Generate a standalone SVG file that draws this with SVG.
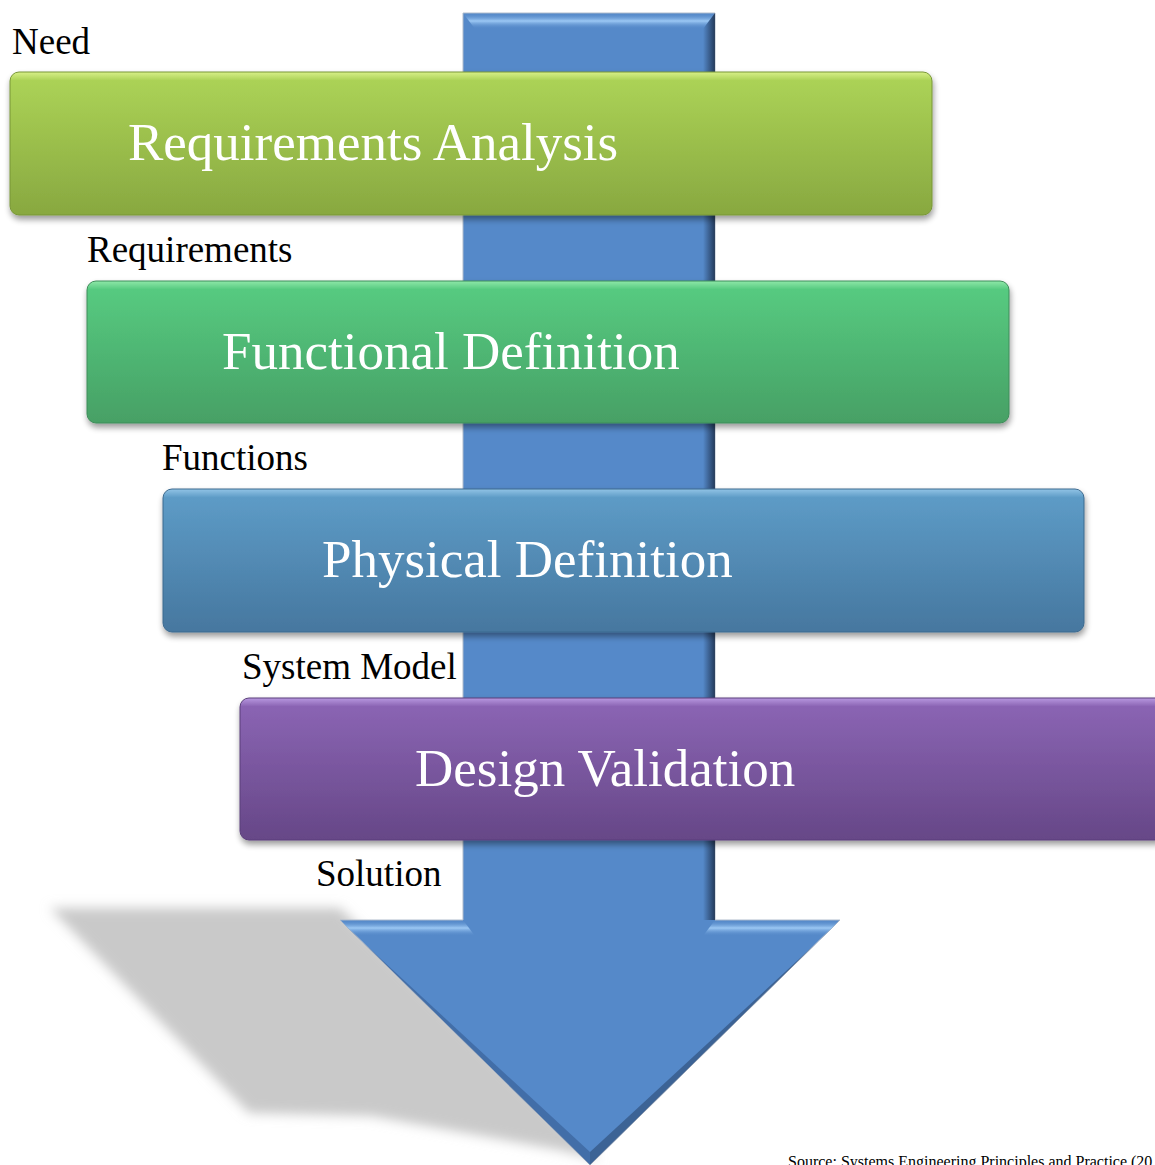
<svg xmlns="http://www.w3.org/2000/svg" width="1155" height="1165" viewBox="0 0 1155 1165">
<style>
.lbl{font-family:"Liberation Serif","Times New Roman",serif;font-size:37px;fill:#000}
.ttl{font-family:"Liberation Serif","Times New Roman",serif;font-size:53px;fill:#fff}
.src{font-family:"Liberation Serif","Times New Roman",serif;font-size:16px;fill:#000}
</style>
<defs>
<filter id="blur" x="-20%" y="-20%" width="140%" height="140%"><feGaussianBlur stdDeviation="6"/></filter>
<filter id="ds" x="-5%" y="-10%" width="110%" height="130%">
<feGaussianBlur in="SourceAlpha" stdDeviation="3"/><feOffset dx="1" dy="4"/>
<feComponentTransfer><feFuncA type="linear" slope="0.4"/></feComponentTransfer>
<feMerge><feMergeNode/><feMergeNode in="SourceGraphic"/></feMerge>
</filter>
<linearGradient id="g1" x1="0" y1="0" x2="0" y2="1"><stop offset="0" stop-color="#d8f088"/><stop offset="0.06" stop-color="#abd256"/><stop offset="1" stop-color="#88a840"/></linearGradient>
<linearGradient id="g2" x1="0" y1="0" x2="0" y2="1"><stop offset="0" stop-color="#8ee8a8"/><stop offset="0.06" stop-color="#56ca80"/><stop offset="1" stop-color="#47a065"/></linearGradient>
<linearGradient id="g3" x1="0" y1="0" x2="0" y2="1"><stop offset="0" stop-color="#92c4e6"/><stop offset="0.06" stop-color="#5d9bc6"/><stop offset="1" stop-color="#46779f"/></linearGradient>
<linearGradient id="g4" x1="0" y1="0" x2="0" y2="1"><stop offset="0" stop-color="#b898e0"/><stop offset="0.06" stop-color="#8a64b3"/><stop offset="1" stop-color="#664787"/></linearGradient>
<linearGradient id="hiV" x1="0" y1="0" x2="0" y2="1"><stop offset="0" stop-color="#5589c9" stop-opacity="0"/><stop offset="0.5" stop-color="#9cc8f4"/><stop offset="1" stop-color="#5589c9" stop-opacity="0"/></linearGradient>
<linearGradient id="dkH" x1="0" y1="0" x2="1" y2="0"><stop offset="0" stop-color="#1a2c48" stop-opacity="0"/><stop offset="1" stop-color="#1a2c48" stop-opacity="0.85"/></linearGradient>
</defs>

<g id="shadow">
<polygon points="50,908 340,908 600,1160 560,1150 371,1116 249,1113" fill="#c9c9c9" filter="url(#blur)"/>
</g>

<g id="arrow">
<polygon points="463,13 715,13 715,920 840,920 590,1165 340,920 463,920" fill="#5589c9" stroke="#b0bccc" stroke-width="1"/>
<polygon points="463,13 715,13 703,29 475,29" fill="url(#hiV)"/>
<polygon points="715,13 715,920 703,920 703,29" fill="url(#dkH)"/>
<polygon points="340,920 463,920 475,936 356,936" fill="url(#hiV)"/>
<polygon points="715,920 840,920 824,936 703,936" fill="url(#hiV)"/>
<polygon points="840,920 590,1165 590,1152 824,936" fill="#1f3556" opacity="0.45"/>
<polygon points="340,920 590,1165 590,1152 356,936" fill="#2c4e80" opacity="0.45"/>
</g>

<g id="node-requirements-analysis">
<rect x="10" y="72" width="922" height="143" rx="9" fill="url(#g1)" stroke="#789636" stroke-width="1" filter="url(#ds)"/>
<text class="ttl" x="128" y="160">Requirements Analysis</text>
</g>
<g id="node-functional-definition">
<rect x="87" y="281" width="922" height="142" rx="9" fill="url(#g2)" stroke="#3f8c5a" stroke-width="1" filter="url(#ds)"/>
<text class="ttl" x="222" y="369">Functional Definition</text>
</g>
<g id="node-physical-definition">
<rect x="163" y="489" width="921" height="143" rx="9" fill="url(#g3)" stroke="#3d6a8e" stroke-width="1" filter="url(#ds)"/>
<text class="ttl" x="322" y="577">Physical Definition</text>
</g>
<g id="node-design-validation">
<rect x="240" y="698" width="925" height="142" rx="9" fill="url(#g4)" stroke="#5a3f7a" stroke-width="1" filter="url(#ds)"/>
<text class="ttl" x="415" y="786">Design Validation</text>
</g>

<g id="labels">
<text class="lbl" x="12" y="54">Need</text>
<text class="lbl" x="87" y="262">Requirements</text>
<text class="lbl" x="162" y="470">Functions</text>
<text class="lbl" x="242" y="679">System Model</text>
<text class="lbl" x="316" y="886">Solution</text>
<text class="src" x="788" y="1167">Source: Systems Engineering Principles and Practice (20</text>
</g>
</svg>
